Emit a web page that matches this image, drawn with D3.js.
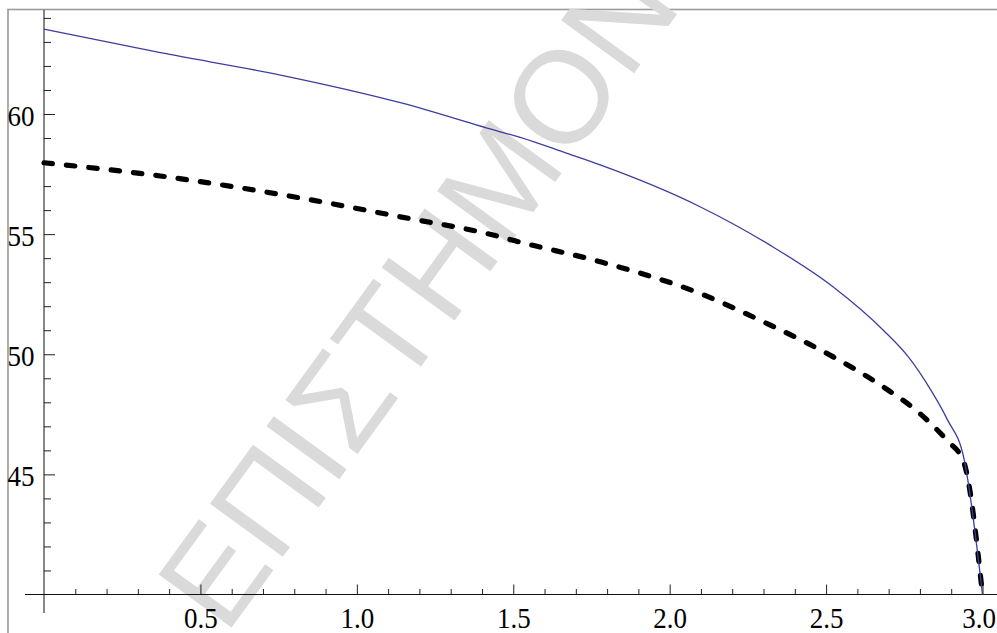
<!DOCTYPE html>
<html>
<head>
<meta charset="utf-8">
<script src="https://cdn.jsdelivr.net/npm/d3@7"></script>
<style>
  html, body { margin: 0; padding: 0; background: #fff; }
  svg { display: block; }
  .tick-label { font-family: "Liberation Serif", "Times New Roman", Times, serif; font-size: 27px; }
  .watermark { font-family: "Liberation Sans", Arial, Helvetica, sans-serif; font-size: 131px; }
</style>
</head>
<body>
<svg id="chart" width="997" height="633"></svg>
<script>
// Upper curve (solid blue) and lower curve (dashed black): [x, value]
const upperCurve = [
  [0.000, 63.53], [0.372, 62.55], [0.756, 61.62], [1.139, 60.47],
  [1.458, 59.26], [1.522, 59.03], [1.672, 58.36], [1.778, 57.88],
  [2.097, 56.14], [2.321, 54.54], [2.523, 52.80], [2.683, 51.00],
  [2.763, 49.89], [2.832, 48.57], [2.886, 47.32], [2.942, 45.58],
  [3.000, 40.00]
];
const lowerCurve = [
  [0.000, 57.97], [0.372, 57.42], [0.756, 56.65], [1.139, 55.72],
  [1.458, 54.89], [1.506, 54.72], [1.778, 53.85], [2.097, 52.53],
  [2.311, 51.28], [2.523, 49.89], [2.683, 48.64], [2.800, 47.53],
  [2.886, 46.42], [2.939, 45.55], [3.000, 40.00]
];
const xMajorTicks = [0.5, 1.0, 1.5, 2.0, 2.5, 3.0];
const xMinorTicks = d3.range(1, 31).map(i => i / 10).filter(v => Math.abs(v * 2 - Math.round(v * 2)) > 1e-9);
const yMajorTicks = [45, 50, 55, 60];
const yMinorTicks = d3.range(41, 65).filter(v => v % 5 !== 0);
const watermarkText = "ΕΠΙΣΤΗΜΟΝΙΚΟ";

const svg = d3.select("#chart");
const W = 997, H = 633;

const x = d3.scaleLinear().domain([0, 3]).range([44, 982.5]);
const y = d3.scaleLinear().domain([40, 60]).range([594.5, 114]);

svg.append("rect").attr("width", W).attr("height", H).attr("fill", "#fff");

// outer frame
svg.append("rect")
  .attr("x", 8).attr("y", 9.5)
  .attr("width", W + 20).attr("height", H + 20)
  .attr("fill", "none").attr("stroke", "#9a9a9a").attr("stroke-width", 1.6);

// faint watermark behind the plot
svg.append("g")
  .attr("transform", "translate(213,573) rotate(-54)")
  .append("text")
  .attr("class", "watermark")
  .attr("x", -44).attr("y", 47)
  .attr("fill", "#dadada")
  .text(watermarkText);

const tickColor = "#222";

// x axis: minor ticks, then labelled major ticks
const xMinor = svg.append("g").attr("transform", `translate(0,${y(40)})`)
  .call(d3.axisBottom(x).tickValues(xMinorTicks).tickSize(-5.5).tickFormat(""));
const xMajor = svg.append("g").attr("transform", `translate(0,${y(40)})`)
  .call(d3.axisBottom(x).tickValues(xMajorTicks).tickSize(-10)
    .tickFormat(d3.format(".1f")));

// y axis: minor ticks, then labelled major ticks
const yMinor = svg.append("g").attr("transform", `translate(${x(0)},0)`)
  .call(d3.axisLeft(y).tickValues(yMinorTicks).tickSize(-7).tickFormat(""));
const yMajor = svg.append("g").attr("transform", `translate(${x(0)},0)`)
  .call(d3.axisLeft(y).tickValues(yMajorTicks).tickSize(-11)
    .tickFormat(d3.format("d")));

[xMinor, xMajor, yMinor, yMajor].forEach(g => {
  g.attr("font-family", null).attr("font-size", null);
  g.select(".domain").remove();
  g.selectAll(".tick line").attr("stroke", tickColor).attr("stroke-width", 1);
  g.selectAll(".tick text")
    .attr("class", "tick-label")
    .attr("fill", "#000");
});

// tick labels: slightly tall serif digits, placed by their baseline;
// the last one is nudged so it stays inside the right edge
const lastX = xMajorTicks[xMajorTicks.length - 1];
xMajor.selectAll(".tick text")
  .attr("x", 0).attr("y", 0).attr("dy", null)
  .attr("transform", d => `translate(${d === lastX ? -4 : 0},33.5) scale(1,1.12)`);
yMajor.selectAll(".tick text")
  .attr("x", 0).attr("y", 0).attr("dy", null)
  .attr("transform", "translate(-9.5,11) scale(1,1.12)");

// axis lines
svg.append("line")
  .attr("x1", 25).attr("x2", W).attr("y1", y(40)).attr("y2", y(40))
  .attr("stroke", "#111").attr("stroke-width", 1);
svg.append("line")
  .attr("x1", x(0)).attr("x2", x(0)).attr("y1", 10).attr("y2", 613)
  .attr("stroke", "#111").attr("stroke-width", 1);

const line = d3.line()
  .x(d => x(d[0]))
  .y(d => y(d[1]))
  .curve(d3.curveMonotoneX);

svg.append("path")
  .datum(lowerCurve)
  .attr("d", line)
  .attr("fill", "none")
  .attr("stroke", "#000")
  .attr("stroke-width", 5.2)
  .attr("stroke-linecap", "round")
  .attr("stroke-dasharray", "8.5,14");

svg.append("path")
  .datum(upperCurve)
  .attr("d", line)
  .attr("fill", "none")
  .attr("stroke", "#3d3d9e")
  .attr("stroke-width", 1.3);
</script>
</body>
</html>
